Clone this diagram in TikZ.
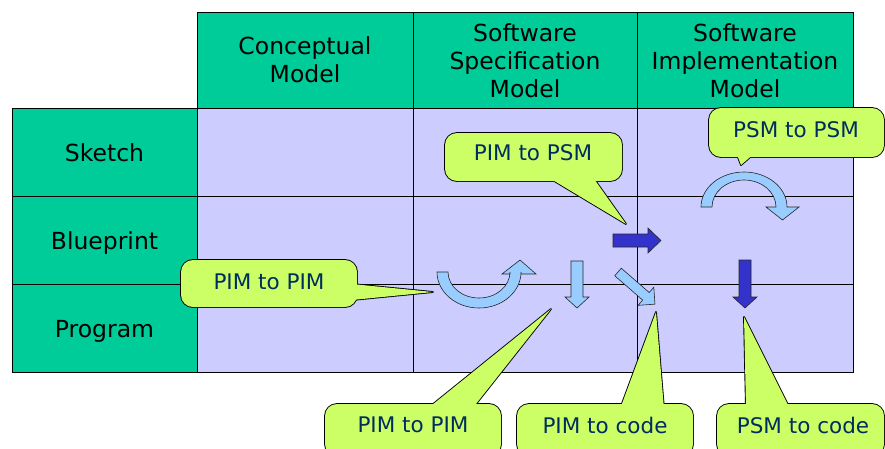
\documentclass[tikz,border=0pt]{standalone}
\usepackage{fontspec}
\setmainfont{DejaVu Sans}

\definecolor{hdrgreen}{RGB}{0,204,153}
\definecolor{celllav}{RGB}{204,204,255}
\definecolor{bubblelime}{RGB}{204,255,102}
\definecolor{bubbleink}{RGB}{0,45,95}
\definecolor{arrowlight}{RGB}{153,204,255}
\definecolor{arrowdark}{RGB}{51,51,204}

% rounded speech bubble: box corners #1..#4, tail path #5
% (outlines are stroked first at double width, then the fills cover the inner halves)
\newcommand\speechbubble[5]{%
  \path[bubbleedge, rounded corners=12] (#1,#2) rectangle (#3,#4);
  \path[bubbleedge] #5;
  \path[bubblefill, rounded corners=12] (#1,#2) rectangle (#3,#4);
  \path[bubblefill] #5;
}

\tikzset{
  gridcell/.style={draw=black, line width=0.9pt, inner sep=0pt, outer sep=0pt},
  headcell/.style={gridcell, fill=hdrgreen, text=black, align=center,
    font=\fontsize{23.5}{28}\selectfont},
  rowcell/.style={headcell, text height=19pt, text depth=0pt},
  bodycell/.style={gridcell, fill=celllav},
  bubbleedge/.style={draw=black, line width=1.8pt, line join=round},
  bubblefill/.style={fill=bubblelime},
  bubbletext/.style={text=bubbleink, inner sep=0pt, font=\fontsize{21.5}{25}\selectfont},
  lightarrow/.style={fill=arrowlight, draw=black!85, line width=0.6pt},
  darkarrow/.style={fill=arrowdark, draw=black!85, line width=0.6pt},
}

\begin{document}
\begin{tikzpicture}[x=1pt,y=-1pt]
\clip (0,0) rectangle (885,448);
\fill[white] (0,0) rectangle (885,448);

% column headers
\node[headcell, minimum width=216, minimum height=96] (hconc) at (305,60) {Conceptual\\Model};
\node[headcell, minimum width=224, minimum height=96] (hspec) at (525,60.5) {Software\\Specification\\Model};
\node[headcell, minimum width=216, minimum height=96] (himpl) at (745,60.5) {Software\\Implementation\\Model};

% row headers
\node[rowcell, minimum width=185, minimum height=88] (rsketch) at (104.5,152) {Sketch};
\node[rowcell, minimum width=185, minimum height=88] (rblue) at (104.5,240) {Blueprint};
\node[rowcell, minimum width=185, minimum height=88] (rprog) at (104.5,328) {Program};

% body cells
\foreach \r/\y in {1/152,2/240,3/328}{
  \node[bodycell, minimum width=216, minimum height=88] (c\r1) at (305,\y) {};
  \node[bodycell, minimum width=224, minimum height=88] (c\r2) at (525,\y) {};
  \node[bodycell, minimum width=216, minimum height=88] (c\r3) at (745,\y) {};
}

% PIM to PIM: U-turn arrow
\draw[lightarrow] (437,272) arc[start angle=180, end angle=0, x radius=42, y radius=36]
  -- (521,274) -- (536,274) -- (520,260) -- (502,274) -- (510,274) -- (510,272)
  arc[start angle=0, end angle=180, x radius=31, y radius=26] -- cycle;

% PIM to code: straight down
\draw[lightarrow] (571,261) -- (583,261) -- (583,297) -- (589,297) -- (577,308)
  -- (565,297) -- (571,297) -- cycle;

% PIM to code: diagonal
\begin{scope}[shift={(618,272)}, rotate=-41]
  \draw[lightarrow] (0,-5) -- (37,-5) -- (37,-12) -- (49,0) -- (37,12) -- (37,5) -- (0,5) -- cycle;
\end{scope}

% PIM to PSM: right arrow
\draw[darkarrow] (613,234) -- (648,234) -- (648,228) -- (661,240.5) -- (648,253)
  -- (648,247) -- (613,247) -- cycle;

% PSM to PSM: arc over the top
\draw[lightarrow] (701,207) arc[start angle=180, end angle=360, x radius=43, y radius=35]
  -- (799,207) -- (782.5,220) -- (766,207) -- (776,207)
  arc[start angle=0, end angle=-180, x radius=32, y radius=27] -- cycle;

% PSM to code: down arrow
\draw[darkarrow] (739,260) -- (751,260) -- (751,297) -- (757,297) -- (745,308)
  -- (733,297) -- (739,297) -- cycle;

% callouts
\speechbubble{709}{108}{884}{157}{(736,152) -- (741,165) -- (756,152) -- cycle}
\node[bubbletext] (tpsmpsm) at (796,130) {PSM to PSM};

\speechbubble{445}{133}{622}{181}{(546,176) -- (626,224) -- (592,176) -- cycle}
\node[bubbletext] (tpimpsm) at (533,153) {PIM to PSM};

\speechbubble{181}{260}{357}{307}{(352,284) -- (433,292) -- (352,300) -- cycle}
\node[bubbletext] (tpimpimA) at (269,282) {PIM to PIM};

\speechbubble{325}{404}{501}{456}{(427,409) -- (551,309) -- (472,409) -- cycle}
\node[bubbletext] (tpimpimB) at (413,425) {PIM to PIM};

\speechbubble{517}{404}{693}{456}{(620,409) -- (656,312) -- (664,409) -- cycle}
\node[bubbletext] (tpimcode) at (605,425) {PIM to code};

\speechbubble{717}{404}{884}{456}{(746,409) -- (744,317) -- (790,409) -- cycle}
\node[bubbletext] (tpsmcode) at (803,425) {PSM to code};
\end{tikzpicture}
\end{document}
